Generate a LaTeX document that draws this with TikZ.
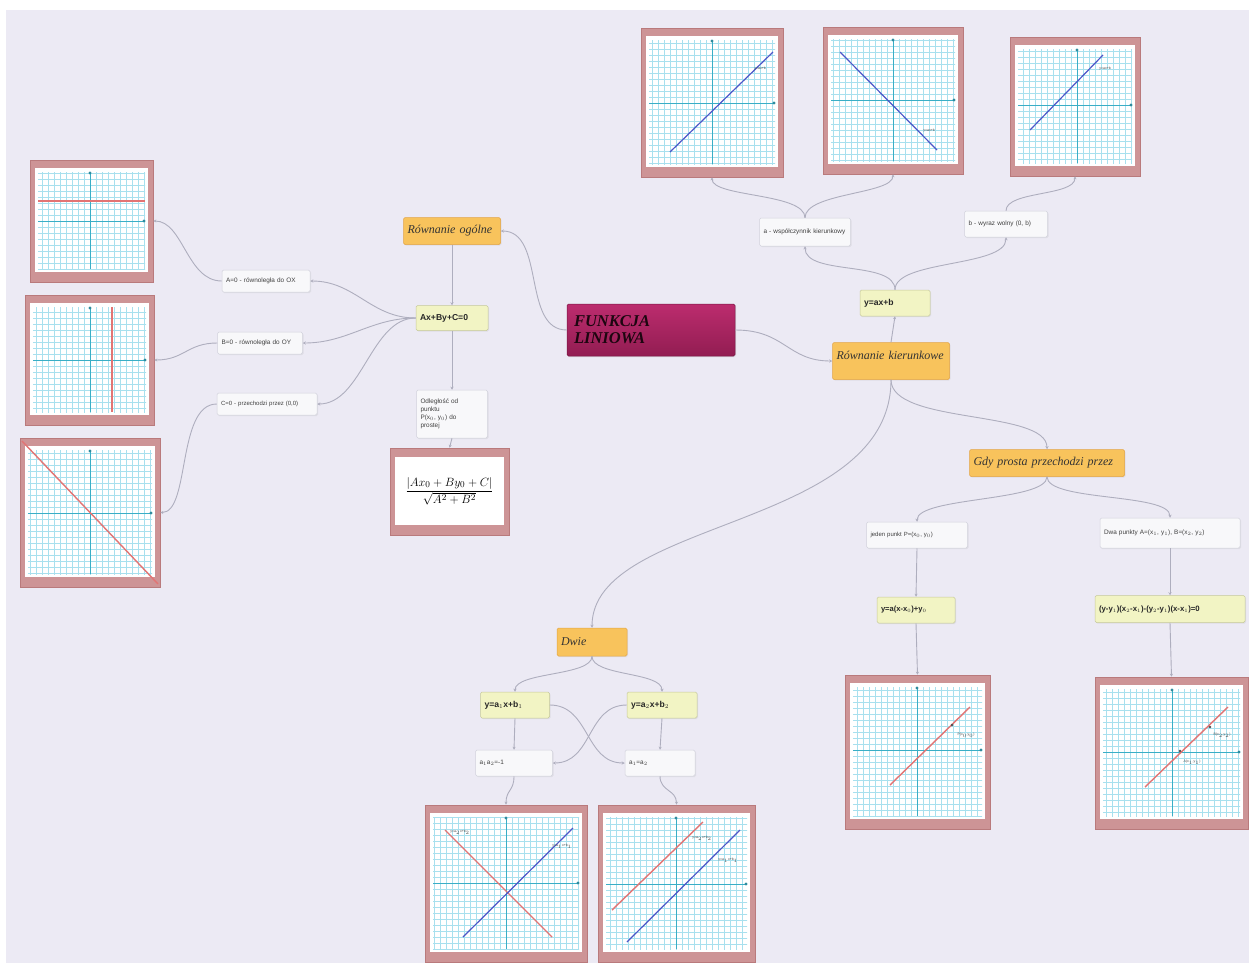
\documentclass[tikz,border=0pt]{standalone}
\usepackage{fontspec}
\setmainfont{Liberation Serif}
\setsansfont{Liberation Sans}
\usetikzlibrary{arrows.meta,shadows}
\definecolor{bgc}{HTML}{ECEAF4}
\definecolor{framec}{HTML}{CD9496}
\definecolor{framed}{HTML}{B97A7C}
\definecolor{wfill}{HTML}{F8F8FA}
\definecolor{wdraw}{HTML}{D2D2DC}
\definecolor{yfill}{HTML}{F2F4C4}
\definecolor{ydraw}{HTML}{C6C99A}
\definecolor{ofill}{HTML}{F8C35C}
\definecolor{odraw}{HTML}{E3A444}
\definecolor{magA}{HTML}{BC2C6E}
\definecolor{magB}{HTML}{921D52}
\definecolor{connc}{HTML}{AEAEBE}
\definecolor{gridc}{HTML}{A8E0EE}
\definecolor{axisc}{HTML}{3AAEC6}
\definecolor{bluec}{HTML}{4C56C8}
\definecolor{redc}{HTML}{E27474}
\tikzset{
  mmbase/.style={rounded corners=1.5pt, inner xsep=4pt, inner ysep=1pt, line width=0.5pt, align=left},
  wbox/.style={mmbase, fill=wfill, draw=wdraw, font=\sffamily\fontsize{6.4}{7.6}\selectfont, text=black!75,
    drop shadow={shadow xshift=1pt, shadow yshift=-1.2pt, opacity=0.12}},
  ybox/.style={mmbase, fill=yfill, draw=ydraw, font=\sffamily\bfseries\fontsize{8.6}{10}\selectfont, text=black!85,
    drop shadow={shadow xshift=1pt, shadow yshift=-1.2pt, opacity=0.12}},
  obox/.style={mmbase, fill=ofill, draw=odraw, font=\itshape\fontsize{12}{14}\selectfont, text=black!80,
    drop shadow={shadow xshift=1pt, shadow yshift=-1.2pt, opacity=0.12}},
  mainbox/.style={mmbase, inner xsep=7pt, top color=magA, bottom color=magB, draw=magB!80!black,
    font=\bfseries\itshape\fontsize{16.5}{17}\selectfont, text=black!80!magB,
    drop shadow={shadow xshift=1pt, shadow yshift=-1.2pt, opacity=0.15}},
  conn/.style={draw=connc, line width=0.9pt, -{Stealth[length=3pt,width=3pt]}},
  gframe/.style={fill=framec, draw=framed, line width=0.6pt, inner sep=0pt,
    drop shadow={shadow xshift=1pt, shadow yshift=-1.2pt, opacity=0.12}},
  gridl/.style={draw=gridc, line width=0.45pt},
  axisl/.style={draw=axisc, line width=0.9pt},
  bluel/.style={draw=bluec, line width=1.2pt},
  redl/.style={draw=redc, line width=1.4pt},
  glab/.style={font=\sffamily\fontsize{3.5}{4}\selectfont, inner sep=0.5pt, text=black!70},
}
\newcommand\graphbox[8]{%
  \node[gframe, minimum width={(#4-#2)*1pt}, minimum height={(#5-#3)*1pt}] (#1) at ({(#2+#4)/2},{(#3+#5)/2}) {};
  \fill[white] (#2+5,#3+8) rectangle (#4-5,#5-10);
  \begin{scope}
    \clip (#2+8,#3+12) rectangle (#4-8,#5-13);
    \foreach \k in {-30,...,30} {
      \draw[gridl] ({#6+\k*6},#3) -- ({#6+\k*6},#5);
      \draw[gridl] (#2,{#7+\k*6}) -- (#4,{#7+\k*6});
    }
  \end{scope}
  \draw[axisl] (#6,#3+12) -- (#6,#5-13);
  \draw[axisl] (#2+8,#7) -- (#4-8,#7);
  \fill[axisc!80!black] (#6,#3+13) circle (1.6);
  \fill[axisc!80!black] (#4-9,#7) circle (1.6);
  #8%
}
\begin{document}
\begin{tikzpicture}[x=1pt,y=-1pt]
\useasboundingbox (0,0) rectangle (1251,967);
\fill[white] (0,0) rectangle (1251,967);
\fill[bgc] (6,10) rectangle (1249,963);

% ---------- nodes ----------
\node[mainbox, text width=154pt, minimum height=52pt] (main) at (651,330) {FUNKCJA\\LINIOWA};

\node[obox, text width=89pt, minimum height=27pt] (rog) at (452,231) {Równanie ogólne};
\node[ybox, text width=64pt, minimum height=25pt] (abc) at (452,318) {Ax+By+C=0};
\node[wbox, text width=80pt, minimum height=22pt] (a0) at (266,281) {A=0 - równoległa do OX};
\node[wbox, text width=77pt, minimum height=22pt] (b0) at (260,343) {B=0 - równoległa do OY};
\node[wbox, text width=92pt, minimum height=22pt, font=\sffamily\fontsize{6}{7.2}\selectfont] (c0) at (267,404) {C=0 - przechodzi przez (0,0)};
\node[wbox, text width=63pt, minimum height=48pt, font=\sffamily\fontsize{6.4}{7.8}\selectfont] (odl) at (452,414) {Odległość od\\punktu\\P(x$_0$, y$_0$) do\\prostej};

\node[obox, text width=109pt, minimum height=37pt, text depth=12pt] (rk) at (891,361) {Równanie kierunkowe};
\node[ybox, text width=62pt, minimum height=26pt] (yab) at (895,303) {y=ax+b};
\node[wbox, text width=83pt, minimum height=28pt] (acoef) at (805,232) {a - współczynnik kierunkowy};
\node[wbox, text width=75pt, minimum height=26pt] (bcoef) at (1006,224) {b - wyraz wolny (0, b)};

\node[obox, text width=147pt, minimum height=27pt] (gdy) at (1047,463) {Gdy prosta przechodzi przez};
\node[wbox, text width=93pt, minimum height=26pt, font=\sffamily\fontsize{6}{7.2}\selectfont] (jeden) at (917,535) {jeden punkt P=(x$_0$, y$_0$)};
\node[wbox, text width=132pt, minimum height=30pt] (dwa) at (1170,533) {Dwa punkty A=(x$_1$, y$_1$), B=(x$_2$, y$_2$)};
\node[ybox, text width=70pt, minimum height=26pt, font=\sffamily\bfseries\fontsize{7.6}{9}\selectfont] (eq1) at (916,610) {y=a(x-x$_0$)+y$_0$};
\node[ybox, text width=142pt, minimum height=27pt, font=\sffamily\bfseries\fontsize{7.8}{9}\selectfont] (eq2) at (1170,609) {(y-y$_1$)(x$_2$-x$_1$)-(y$_2$-y$_1$)(x-x$_1$)=0};

\node[obox, text width=62pt, minimum height=28pt] (dwie) at (592,642) {Dwie};
\node[ybox, text width=61pt, minimum height=26pt] (l1) at (515,705) {y=a$_1$x+b$_1$};
\node[ybox, text width=62pt, minimum height=26pt] (l2) at (662,705) {y=a$_2$x+b$_2$};
\node[wbox, text width=69pt, minimum height=26pt] (perp) at (514,763) {a$_1$a$_2$=-1};
\node[wbox, text width=62pt, minimum height=26pt] (par) at (660,763) {a$_1$=a$_2$};

% ---------- graphs ----------
\graphbox{g1}{30}{160}{153}{282}{90}{221}{\draw[redl] (38,201) -- (145,201);}
\graphbox{g2}{25}{295}{154}{425}{90}{360}{\draw[redl] (112,307) -- (112,412);}
\graphbox{g3}{20}{438}{160}{587}{90}{513}{\draw[redl] (22,441) -- (158,584);}
\graphbox{gA}{641}{28}{783}{177}{712}{103}{\draw[bluel] (670,152) -- (773,52);
  \node[glab] at (760,69) {y=ax+b};}
\graphbox{gB}{823}{27}{963}{174}{893}{100}{\draw[bluel] (840,52) -- (937,150);
  \node[glab] at (929,131) {y=ax+b};}
\graphbox{gC}{1010}{37}{1140}{176}{1077}{105}{\draw[bluel] (1030,130) -- (1103,55);
  \node[glab] at (1105,69) {y=ax+b};}
\graphbox{gPerp}{425}{805}{587}{962}{506}{883}{\draw[redl] (445,830) -- (552,937);
  \draw[bluel] (463,937) -- (573,828);
  \node[glab] at (460,832) {y=a$_2$x+b$_2$};
  \node[glab] at (562,846) {y=a$_1$x+b$_1$};}
\graphbox{gPar}{598}{805}{755}{962}{676}{884}{\draw[redl] (612,910) -- (703,822);
  \draw[bluel] (627,942) -- (740,830);
  \node[glab] at (702,838) {y=a$_2$x+b$_2$};
  \node[glab] at (728,860) {y=a$_1$x+b$_1$};}
\graphbox{gP}{845}{675}{990}{829}{917}{750}{\draw[redl] (890,785) -- (970,707);
  \fill[black!70] (952,725) circle (1.4);
  \node[glab] at (966,735) {P(x$_0$,y$_0$)};}
\graphbox{gAB}{1095}{677}{1248}{829}{1172}{752}{\draw[redl] (1145,787) -- (1228,707);
  \fill[black!70] (1180,751) circle (1.4);
  \fill[black!70] (1210,727) circle (1.4);
  \node[glab] at (1192,762) {A(x$_1$,y$_1$)};
  \node[glab] at (1222,735) {B(x$_2$,y$_2$)};}

% formula box
\node[gframe, minimum width=119pt, minimum height=87pt] (form) at (449.5,491.5) {};
\fill[white] (395,457) rectangle (504,525);
\node[font=\fontsize{13}{15}\selectfont, inner sep=0pt] (formtxt) at (449.5,491) {$\displaystyle\frac{|Ax_0+By_0+C|}{\sqrt{A^2+B^2}}$};

% ---------- connectors ----------
\draw[conn] (main.west) .. controls +(-45,0) and +(45,0) .. (rog.east);
\draw[conn] (main.east) .. controls +(50,0) and +(-45,0) .. (rk.west);
\draw[conn] (rog.south) -- (abc.north);
\draw[conn] (abc.south) -- (odl.north);
\draw[conn] (odl.south) -- (form.north);
\draw[conn] (abc.west) .. controls +(-45,0) and +(45,0) .. (a0.east);
\draw[conn] (abc.west) .. controls +(-45,0) and +(45,0) .. (b0.east);
\draw[conn] (abc.west) .. controls +(-45,0) and +(45,0) .. (c0.east);
\draw[conn] (a0.west) .. controls +(-35,0) and +(30,0) .. (g1.east);
\draw[conn] (b0.west) .. controls +(-30,0) and +(30,0) .. (g2.east);
\draw[conn] (c0.west) .. controls +(-40,0) and +(30,0) .. (g3.east);

\draw[conn] (rk.north) -- (yab.south);
\draw[conn] (yab.north) .. controls +(0,-30) and +(0,30) .. (acoef.south);
\draw[conn] (yab.north) .. controls +(0,-30) and +(0,30) .. (bcoef.south);
\draw[conn] (acoef.north) .. controls +(0,-25) and +(0,20) .. (gA.south);
\draw[conn] (acoef.north) .. controls +(0,-25) and +(0,20) .. (gB.south);
\draw[conn] (bcoef.north) .. controls +(0,-20) and +(0,20) .. (gC.south);

\draw[conn] (rk.south) .. controls +(0,45) and +(0,-40) .. (gdy.north);
\draw[conn] (rk.south) .. controls +(0,150) and +(0,-110) .. (dwie.north);
\draw[conn] (gdy.south) .. controls +(0,25) and +(0,-25) .. (jeden.north);
\draw[conn] (gdy.south) .. controls +(0,25) and +(0,-25) .. (dwa.north);
\draw[conn] (jeden.south) -- (eq1.north);
\draw[conn] (eq1.south) -- (gP.north);
\draw[conn] (dwa.south) -- (eq2.north);
\draw[conn] (eq2.south) -- (gAB.north);

\draw[conn] (dwie.south) .. controls +(0,20) and +(0,-20) .. (l1.north);
\draw[conn] (dwie.south) .. controls +(0,20) and +(0,-20) .. (l2.north);
\draw[conn] (l1.south) -- (perp.north);
\draw[conn] (l2.south) -- (par.north);
\draw[conn] (l1.east) .. controls +(40,0) and +(-40,0) .. (par.west);
\draw[conn] (l2.west) .. controls +(-40,0) and +(40,0) .. (perp.east);
\draw[conn] (perp.south) .. controls +(0,15) and +(0,-15) .. (gPerp.north);
\draw[conn] (par.south) .. controls +(0,15) and +(0,-15) .. (gPar.north);
\end{tikzpicture}
\end{document}
